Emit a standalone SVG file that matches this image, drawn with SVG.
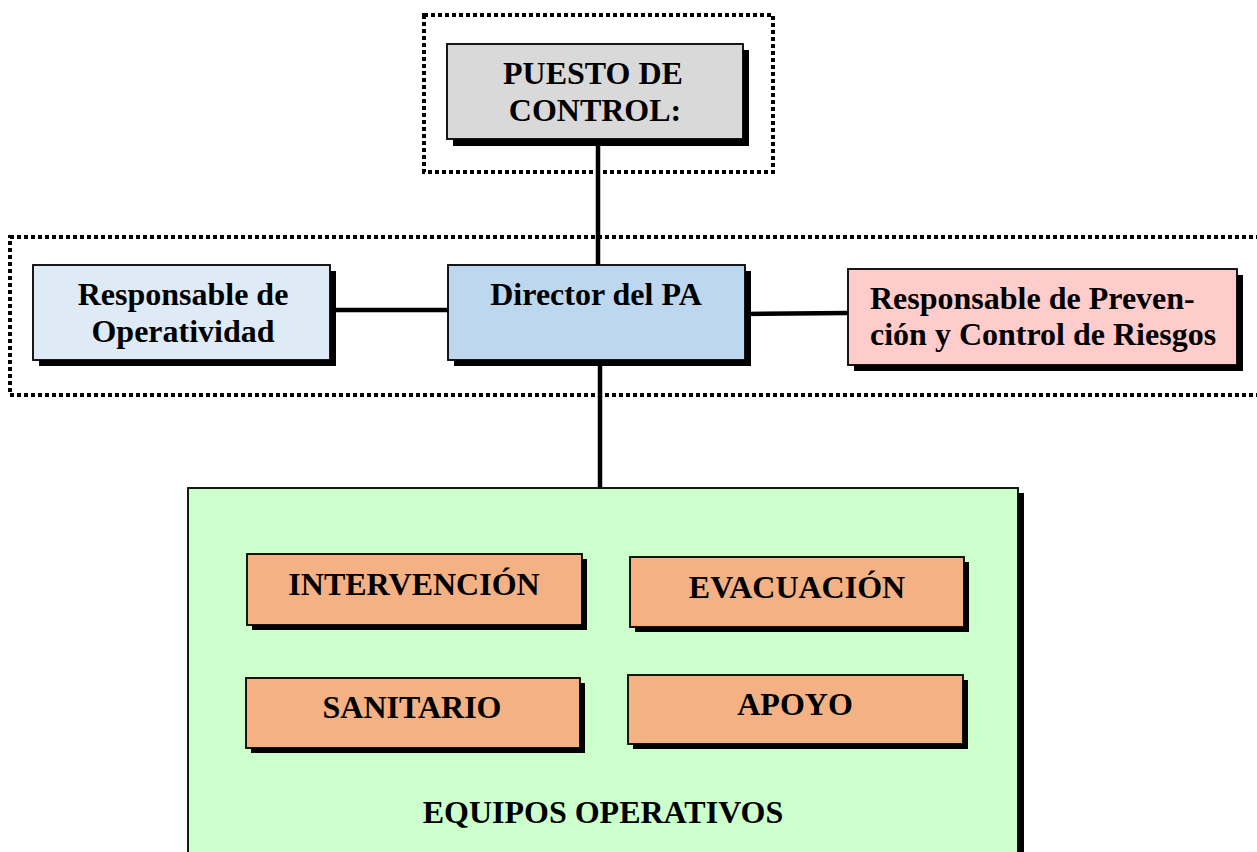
<svg xmlns="http://www.w3.org/2000/svg" width="1257" height="852" viewBox="0 0 1257 852">
<style>
.dot{fill:none;stroke:#000;stroke-width:3.5;stroke-dasharray:4 3;shape-rendering:crispEdges}
.sh{fill:#000}
.box{stroke:#000;stroke-width:1.8}
.t{font-family:"Liberation Serif","Times New Roman",serif;font-weight:bold;font-size:32px;fill:#000}
.c{text-anchor:middle}
.ln{stroke:#000;stroke-width:4.5;fill:none}
</style>
<rect width="1257" height="852" fill="#fff"/>
<g id="frames">
<rect class="dot" x="424" y="15" width="349" height="157"/>
<rect class="dot" x="10" y="237" width="1260" height="158"/>
</g>
<g id="equipos">
<rect class="sh" x="193" y="493" width="831" height="370"/>
<rect class="box" x="188" y="488" width="830" height="370" fill="#ccffcc"/>
<text class="t c" x="603" y="823">EQUIPOS OPERATIVOS</text>
</g>
<g id="connectors">
<line class="ln" x1="598" y1="139" x2="598" y2="265"/>
<line class="ln" x1="600" y1="360" x2="600" y2="488"/>
<line class="ln" x1="330" y1="310" x2="448" y2="310"/>
<line class="ln" x1="745" y1="314" x2="848" y2="313"/>
</g>
<g id="puesto">
<rect class="sh" x="453" y="50" width="296" height="96"/>
<rect class="box" x="447" y="44" width="296" height="95" fill="#d9d9d9"/>
<text class="t c" x="593" y="84" font-size="33">PUESTO DE</text>
<text class="t c" x="595" y="121" font-size="33">CONTROL:</text>
</g>
<g id="operatividad">
<rect class="sh" x="39" y="271" width="297" height="95"/>
<rect class="box" x="33" y="265" width="297" height="95" fill="#deeaf6"/>
<text class="t c" x="183" y="305">Responsable de</text>
<text class="t c" x="183" y="342">Operatividad</text>
</g>
<g id="director">
<rect class="sh" x="454" y="271" width="297" height="95"/>
<rect class="box" x="448" y="265" width="297" height="95" fill="#bdd7ee"/>
<text class="t c" x="596" y="305">Director del PA</text>
</g>
<g id="prevencion">
<rect class="sh" x="854" y="275" width="389" height="96"/>
<rect class="box" x="848" y="269" width="389" height="96" fill="#ffcccc"/>
<text class="t" x="870" y="309">Responsable de Preven-</text>
<text class="t" x="870" y="345">ción y Control de Riesgos</text>
</g>
<g id="intervencion">
<rect class="sh" x="252" y="559" width="335" height="71"/>
<rect class="box" x="247" y="554" width="335" height="71" fill="#f4b183"/>
<text class="t c" x="414" y="595">INTERVENCIÓN</text>
</g>
<g id="evacuacion">
<rect class="sh" x="635" y="562" width="334" height="70"/>
<rect class="box" x="630" y="557" width="334" height="70" fill="#f4b183"/>
<text class="t c" x="797" y="598">EVACUACIÓN</text>
</g>
<g id="sanitario">
<rect class="sh" x="251" y="683" width="334" height="70"/>
<rect class="box" x="246" y="678" width="334" height="70" fill="#f4b183"/>
<text class="t c" x="412" y="718">SANITARIO</text>
</g>
<g id="apoyo">
<rect class="sh" x="633" y="680" width="335" height="69"/>
<rect class="box" x="628" y="675" width="335" height="69" fill="#f4b183"/>
<text class="t c" x="795" y="715">APOYO</text>
</g>
</svg>
